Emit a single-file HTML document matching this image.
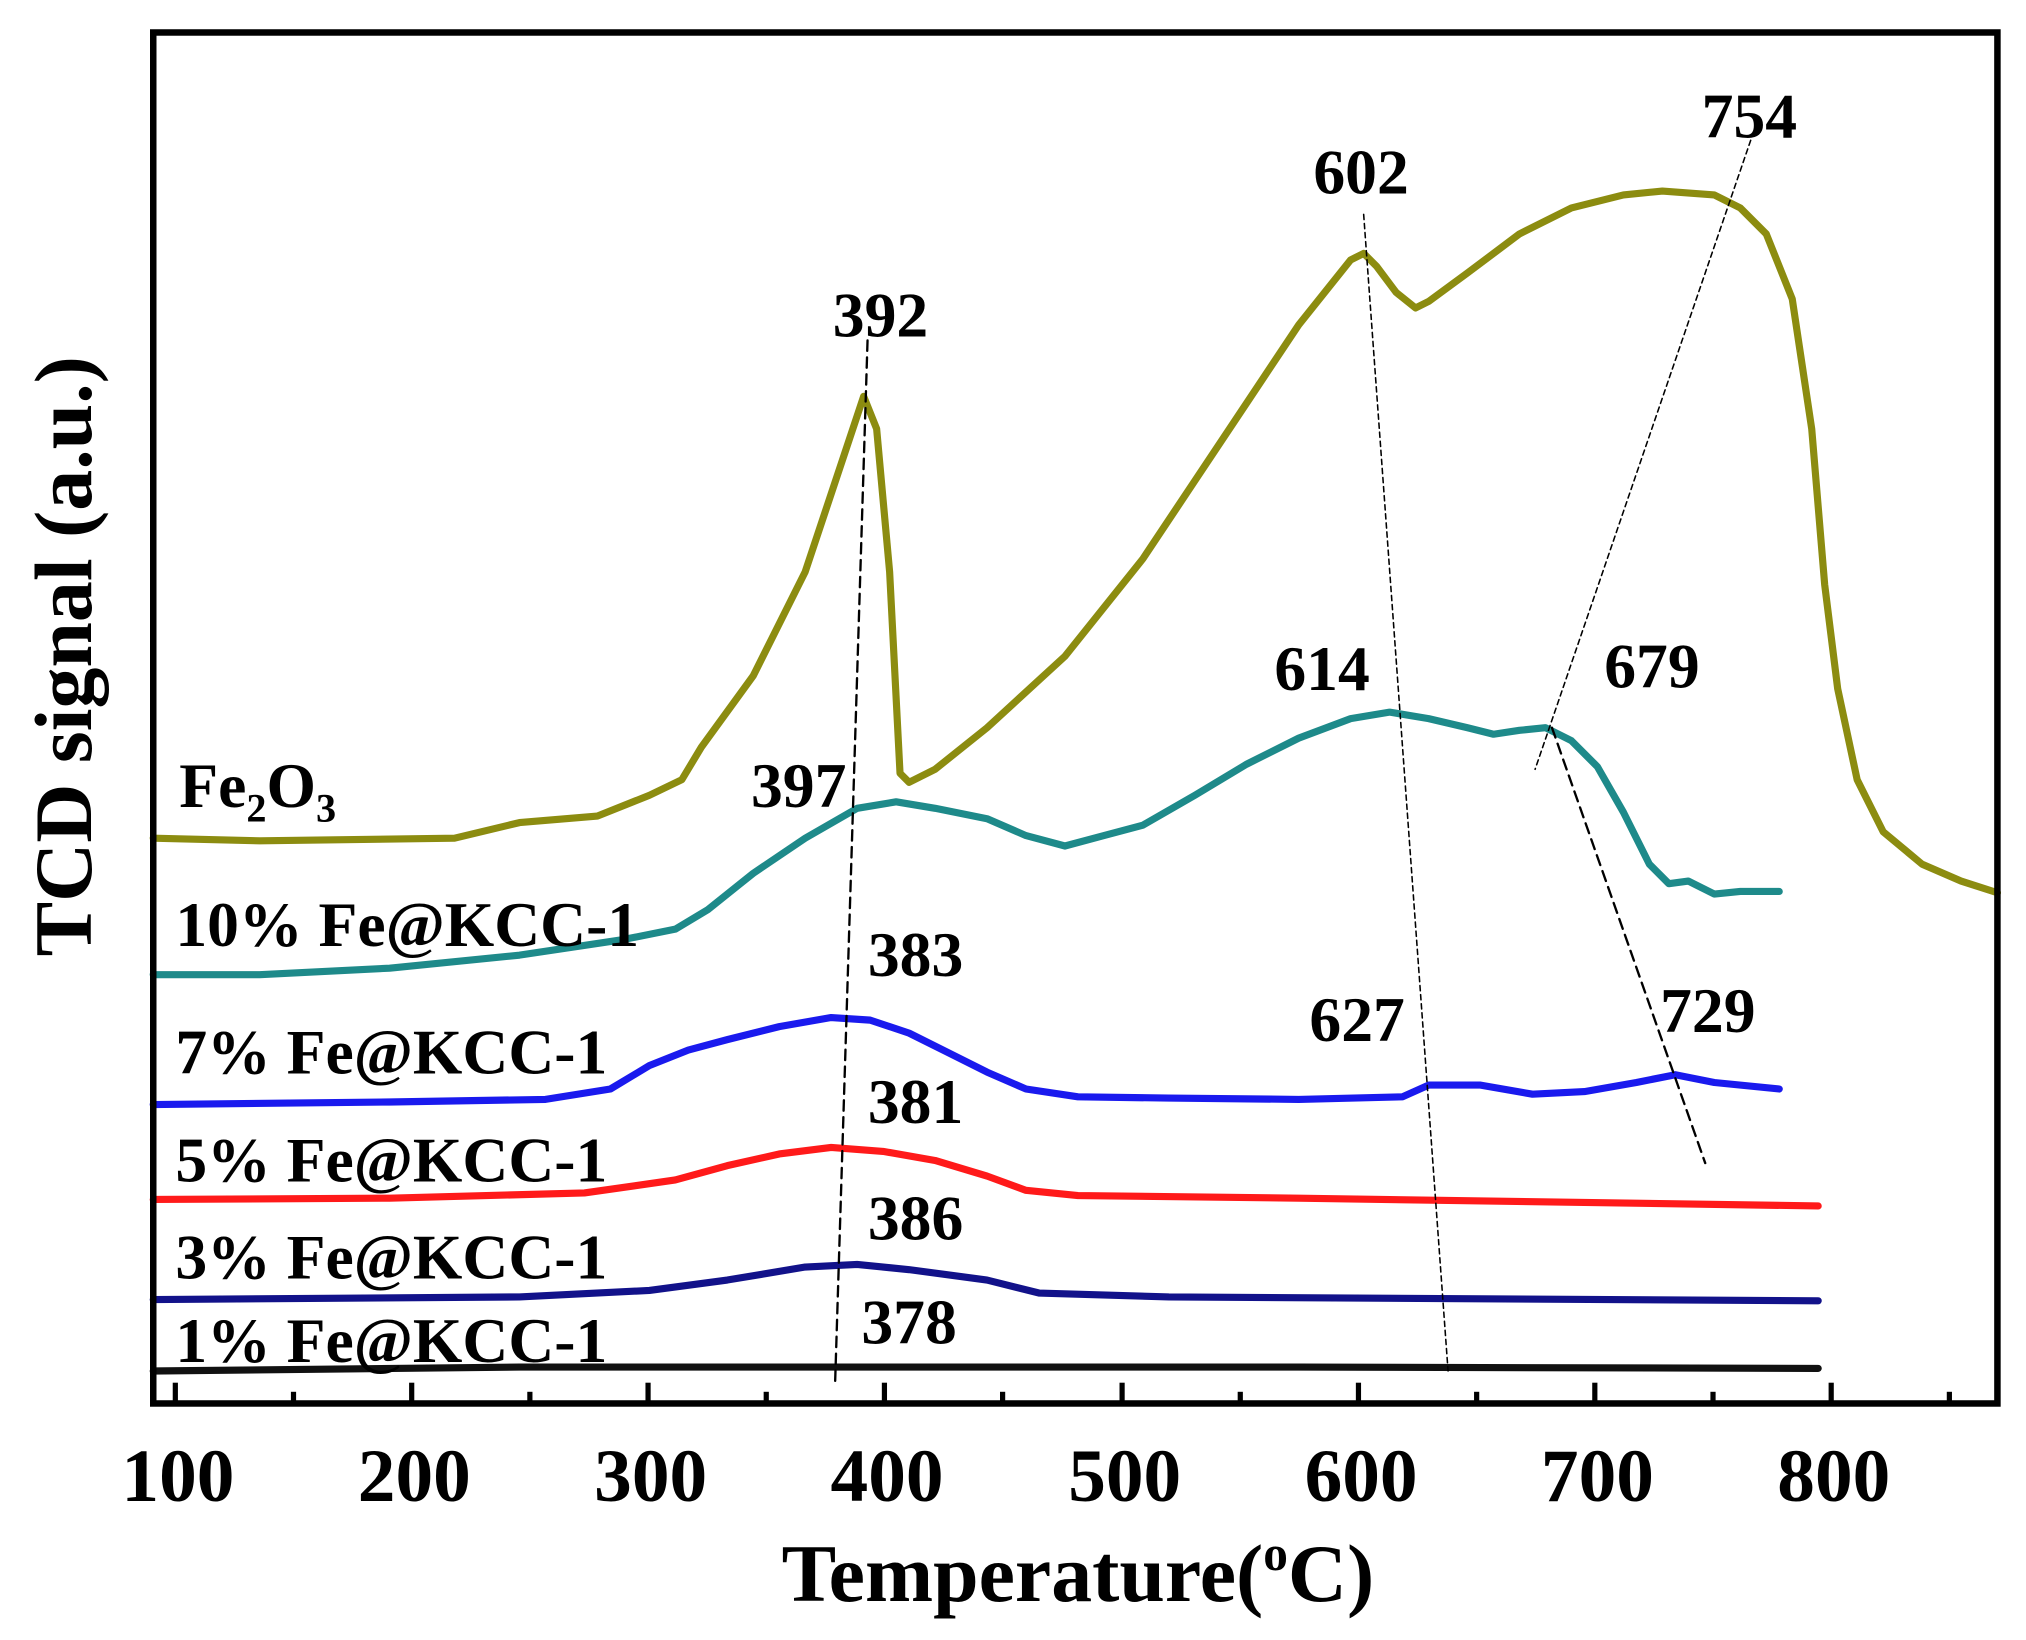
<!DOCTYPE html>
<html><head><meta charset="utf-8"><style>html,body{margin:0;padding:0;background:#fff}svg{display:block}</style></head>
<body>
<svg width="2026" height="1640" viewBox="0 0 1560 1262" preserveAspectRatio="none" xmlns="http://www.w3.org/2000/svg" font-family="'Liberation Serif',serif" font-weight="bold">
<rect width="1560" height="1262" fill="#fff"/>
<g fill="none" stroke-linejoin="round" stroke-linecap="round">
<polyline stroke="#8c8c10" stroke-width="5.5" points="118,645 200,647 350,645 400,633 460,628 500,612 525,600 540,575 580,520 620,440 650,350 665,305 675,330 685,440 693,595 700,602 720,592 760,560 820,505 880,430 920,370 960,310 1000,250 1020,225 1040,200 1050,195 1060,205 1075,225 1090,237 1100,232 1130,210 1170,180 1210,160 1250,150 1280,147 1320,150 1340,160 1360,180 1380,230 1395,330 1405,450 1415,530 1430,600 1450,640 1480,665 1510,678 1538,687"/>
<polyline stroke="#1e8a8a" stroke-width="5.5" points="118,750 200,750 300,745 400,735 480,723 520,715 545,700 580,672 620,645 660,622 690,617 720,622 760,630 790,643 820,651 850,643 880,635 920,612 960,588 1000,568 1040,553 1070,548 1100,553 1130,560 1150,565 1170,562 1190,560 1210,570 1230,590 1250,625 1270,665 1285,680 1300,678 1320,688 1340,686 1370,686"/>
<polyline stroke="#1a1aee" stroke-width="5.5" points="118,850 300,848 420,846 470,838 500,820 530,808 560,800 600,790 640,783 670,785 700,795 730,810 760,825 790,838 830,844 900,845 1000,846 1080,844 1100,835 1140,835 1180,842 1220,840 1260,833 1290,827 1320,833 1370,838"/>
<polyline stroke="#ff1a1a" stroke-width="5.5" points="118,923 300,922 450,918 520,908 560,897 600,888 640,883 680,886 720,893 760,905 790,916 830,920 1000,922 1200,925 1400,928"/>
<polyline stroke="#12128a" stroke-width="5.5" points="118,1000 400,998 500,993 560,985 620,975 660,973 700,977 760,985 800,995 900,998 1400,1001"/>
<polyline stroke="#111" stroke-width="5.5" points="118,1055 400,1052 700,1052 1000,1052 1400,1053"/>
<line x1="668" y1="262" x2="643" y2="1065" stroke="#000" stroke-width="1.8" stroke-dasharray="8,5"/>
<line x1="1050" y1="165" x2="1115" y2="1055" stroke="#000" stroke-width="1.2" stroke-dasharray="4,3"/>
<line x1="1348" y1="108" x2="1182" y2="592" stroke="#000" stroke-width="1.2" stroke-dasharray="4,3"/>
<line x1="1195" y1="560" x2="1313" y2="895" stroke="#000" stroke-width="1.8" stroke-dasharray="8,5"/>
</g>
<rect x="118" y="25" width="1420" height="1055" fill="none" stroke="#000" stroke-width="5"/>
<g stroke="#000" stroke-width="4">
<line x1="135" y1="1080" x2="135" y2="1064"/><line x1="317" y1="1080" x2="317" y2="1064"/><line x1="499" y1="1080" x2="499" y2="1064"/><line x1="681" y1="1080" x2="681" y2="1064"/><line x1="864" y1="1080" x2="864" y2="1064"/><line x1="1046" y1="1080" x2="1046" y2="1064"/><line x1="1228" y1="1080" x2="1228" y2="1064"/><line x1="1410" y1="1080" x2="1410" y2="1064"/>
<line x1="226" y1="1080" x2="226" y2="1071"/><line x1="408" y1="1080" x2="408" y2="1071"/><line x1="590" y1="1080" x2="590" y2="1071"/><line x1="772" y1="1080" x2="772" y2="1071"/><line x1="955" y1="1080" x2="955" y2="1071"/><line x1="1137" y1="1080" x2="1137" y2="1071"/><line x1="1319" y1="1080" x2="1319" y2="1071"/><line x1="1501" y1="1080" x2="1501" y2="1071"/>
</g>
<g font-size="58" text-anchor="middle" fill="#000">
<text x="137" y="1155">100</text><text x="319" y="1155">200</text><text x="501" y="1155">300</text><text x="683" y="1155">400</text><text x="866" y="1155">500</text><text x="1048" y="1155">600</text><text x="1230" y="1155">700</text><text x="1412" y="1155">800</text>
</g>
<text x="830" y="1232" font-size="63" text-anchor="middle">Temperature(<tspan font-size="38" dy="-24">o</tspan><tspan dy="24">C)</tspan></text>
<text transform="translate(70,505) rotate(-90)" font-size="63" text-anchor="middle">TCD signal (a.u.)</text>
<g font-size="49" text-anchor="middle" fill="#000">
<text x="678" y="259">392</text><text x="1048" y="149">602</text><text x="1347" y="106">754</text><text x="1018" y="531">614</text><text x="1272" y="529">679</text><text x="615" y="621">397</text><text x="705" y="751">383</text><text x="1045" y="801">627</text><text x="1315" y="794">729</text><text x="705" y="864">381</text><text x="705" y="954">386</text><text x="700" y="1034">378</text>
</g>
<g font-size="49" fill="#000">
<text x="138" y="621">Fe<tspan font-size="31" dy="11">2</tspan><tspan dy="-11">O</tspan><tspan font-size="31" dy="11">3</tspan></text>
<text x="135" y="728">10% Fe@KCC-1</text>
<text x="135" y="826">7% Fe@KCC-1</text>
<text x="135" y="909">5% Fe@KCC-1</text>
<text x="135" y="984">3% Fe@KCC-1</text>
<text x="135" y="1048">1% Fe@KCC-1</text>
</g>
</svg>
</body></html>
